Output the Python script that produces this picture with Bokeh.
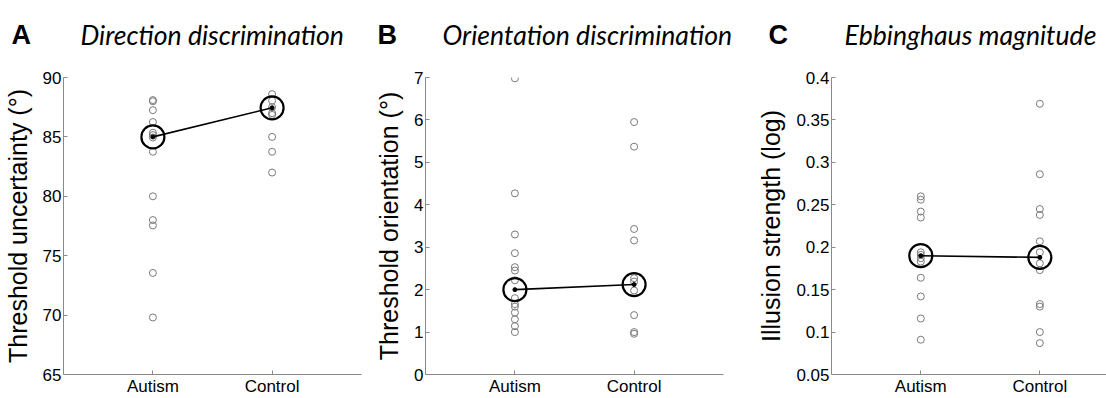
from bokeh.plotting import figure
from bokeh.layouts import row, column
from bokeh.models import FixedTicker
from bokeh.core.properties import value
from bokeh.embed import file_html
from bokeh.resources import INLINE

# Group positions and labels
groups = [1, 2]
group_labels = ["Autism", "Control"]

# A: direction discrimination thresholds (deg)
dir_autism = [88.1, 88.0, 87.25, 86.25, 85.35, 85.15, 84.95, 83.75, 80.0, 78.0, 77.55, 73.55, 69.8]
dir_control = [88.6, 88.05, 87.5, 87.0, 86.85, 85.0, 83.75, 82.0]
dir_center = [85.0, 87.45]
dir_ticks = [65, 70, 75, 80, 85, 90]

# B: orientation discrimination thresholds (deg)
ori_autism = [6.98, 4.27, 3.30, 2.86, 2.53, 2.45, 2.22, 1.80, 1.66, 1.60, 1.46, 1.30, 1.14, 1.00]
ori_control = [5.95, 5.37, 3.43, 3.16, 2.27, 2.19, 1.98, 1.40, 1.00, 0.96]
ori_center = [2.0, 2.12]
ori_ticks = [0, 1, 2, 3, 4, 5, 6, 7]

# C: Ebbinghaus illusion strength (log)
ebb_autism = [0.260, 0.256, 0.242, 0.235, 0.194, 0.191, 0.187, 0.183, 0.164, 0.142, 0.116, 0.091]
ebb_control = [0.369, 0.286, 0.245, 0.238, 0.207, 0.194, 0.181, 0.173, 0.133, 0.130, 0.100, 0.087]
ebb_center = [0.190, 0.188]
ebb_ticks = [0.05, 0.1, 0.15, 0.2, 0.25, 0.3, 0.35, 0.4]
ebb_tick_labels = ["0.05", "0.1", "0.15", "0.2", "0.25", "0.3", "0.35", "0.4"]

# Panel headings
panel_letters = ["A", "B", "C"]
panel_titles = ["Direction discrimination", "Orientation discrimination", "Ebbinghaus magnitude"]
letter_x = [11, 377, 768]
title_x = [80, 442, 844]

WIDTH = 1106
HEADER_H = 67
MAIN_H = 398 - HEADER_H
TOP, BOTTOM = 10, 22
AXIS_GREY = "#8a8a8a"

# one strip across the top carrying every panel letter and italic title
header = figure(width=WIDTH, height=HEADER_H, output_backend="svg", toolbar_location=None,
                x_range=(0, WIDTH), y_range=(HEADER_H, 0),
                x_axis_location=None, y_axis_location=None,
                min_border=0, min_border_left=0, min_border_right=0,
                min_border_top=0, min_border_bottom=0)
header.outline_line_color = None
header.xgrid.visible = False
header.ygrid.visible = False
header.text(x=letter_x, y=[34] * 3, text=panel_letters, text_font=value("Liberation Sans"),
            text_font_style="bold", text_font_size="27px", text_color="black",
            text_baseline="alphabetic", text_align="left")
header.text(x=title_x, y=[34] * 3, text=panel_titles, text_font=value("Lato"),
            text_font_style="italic", text_font_size="26.6px", text_color="black",
            text_baseline="alphabetic", text_align="left")


def panel(ylabel, autism, control, center, yticks, ytick_labels,
          yrange, width, left, right, x_end=2.75):
    p = figure(width=width, height=MAIN_H, output_backend="svg", toolbar_location=None,
               x_range=(0.25, x_end), y_range=yrange,
               min_border_left=left, min_border_right=right,
               min_border_top=TOP, min_border_bottom=BOTTOM)
    p.outline_line_color = None
    p.xgrid.visible = False
    p.ygrid.visible = False

    for ax in (p.xaxis[0], p.yaxis[0]):
        ax.axis_line_color = AXIS_GREY
        ax.major_tick_line_color = AXIS_GREY
        ax.major_tick_in = 4
        ax.major_tick_out = 0
        ax.minor_tick_line_color = None
        ax.major_label_text_font = "Liberation Sans"
        ax.major_label_text_font_size = "17px"
        ax.major_label_text_color = "black"
        ax.major_label_standoff = 2

    p.xaxis.ticker = FixedTicker(ticks=groups)
    p.xaxis.major_label_overrides = {g: s for g, s in zip(groups, group_labels)}
    p.yaxis.ticker = FixedTicker(ticks=yticks)
    p.yaxis.major_label_overrides = {t: s for t, s in zip(yticks, ytick_labels)}
    p.yaxis.axis_label = ylabel
    p.yaxis.axis_label_text_font = "Liberation Sans"
    p.yaxis.axis_label_text_font_style = "normal"
    p.yaxis.axis_label_text_font_size = "25px"
    p.yaxis.axis_label_text_color = "black"
    p.yaxis.axis_label_standoff = 8

    # individual participants
    p.scatter([groups[0]] * len(autism), autism, size=7, marker="circle",
              fill_color=None, line_color="#7a7a7a", line_width=1)
    p.scatter([groups[1]] * len(control), control, size=7, marker="circle",
              fill_color=None, line_color="#7a7a7a", line_width=1)

    # group summary
    p.line(groups, center, line_color="black", line_width=1.6)
    p.scatter(groups, center, size=23, marker="circle", fill_color=None,
              line_color="black", line_width=2.2)
    p.scatter(groups, center, size=4, marker="circle", fill_color="black",
              line_color="black")
    return p


pa = panel("Threshold uncertainty (°)", dir_autism, dir_control, dir_center,
           dir_ticks, [str(t) for t in dir_ticks], (65, 90), 370, 63, 9)
pb = panel("Threshold orientation (°)", ori_autism, ori_control, ori_center,
           ori_ticks, [str(t) for t in ori_ticks], (0, 7), 366, 55, 13)
pc = panel("Illusion strength (log)", ebb_autism, ebb_control, ebb_center,
           ebb_ticks, ebb_tick_labels, (0.05, 0.4), 370, 95, 0, x_end=2.56)

layout = column(header, row(pa, pb, pc, spacing=0), spacing=0)
open("out.html", "w").write(file_html(layout, INLINE))
